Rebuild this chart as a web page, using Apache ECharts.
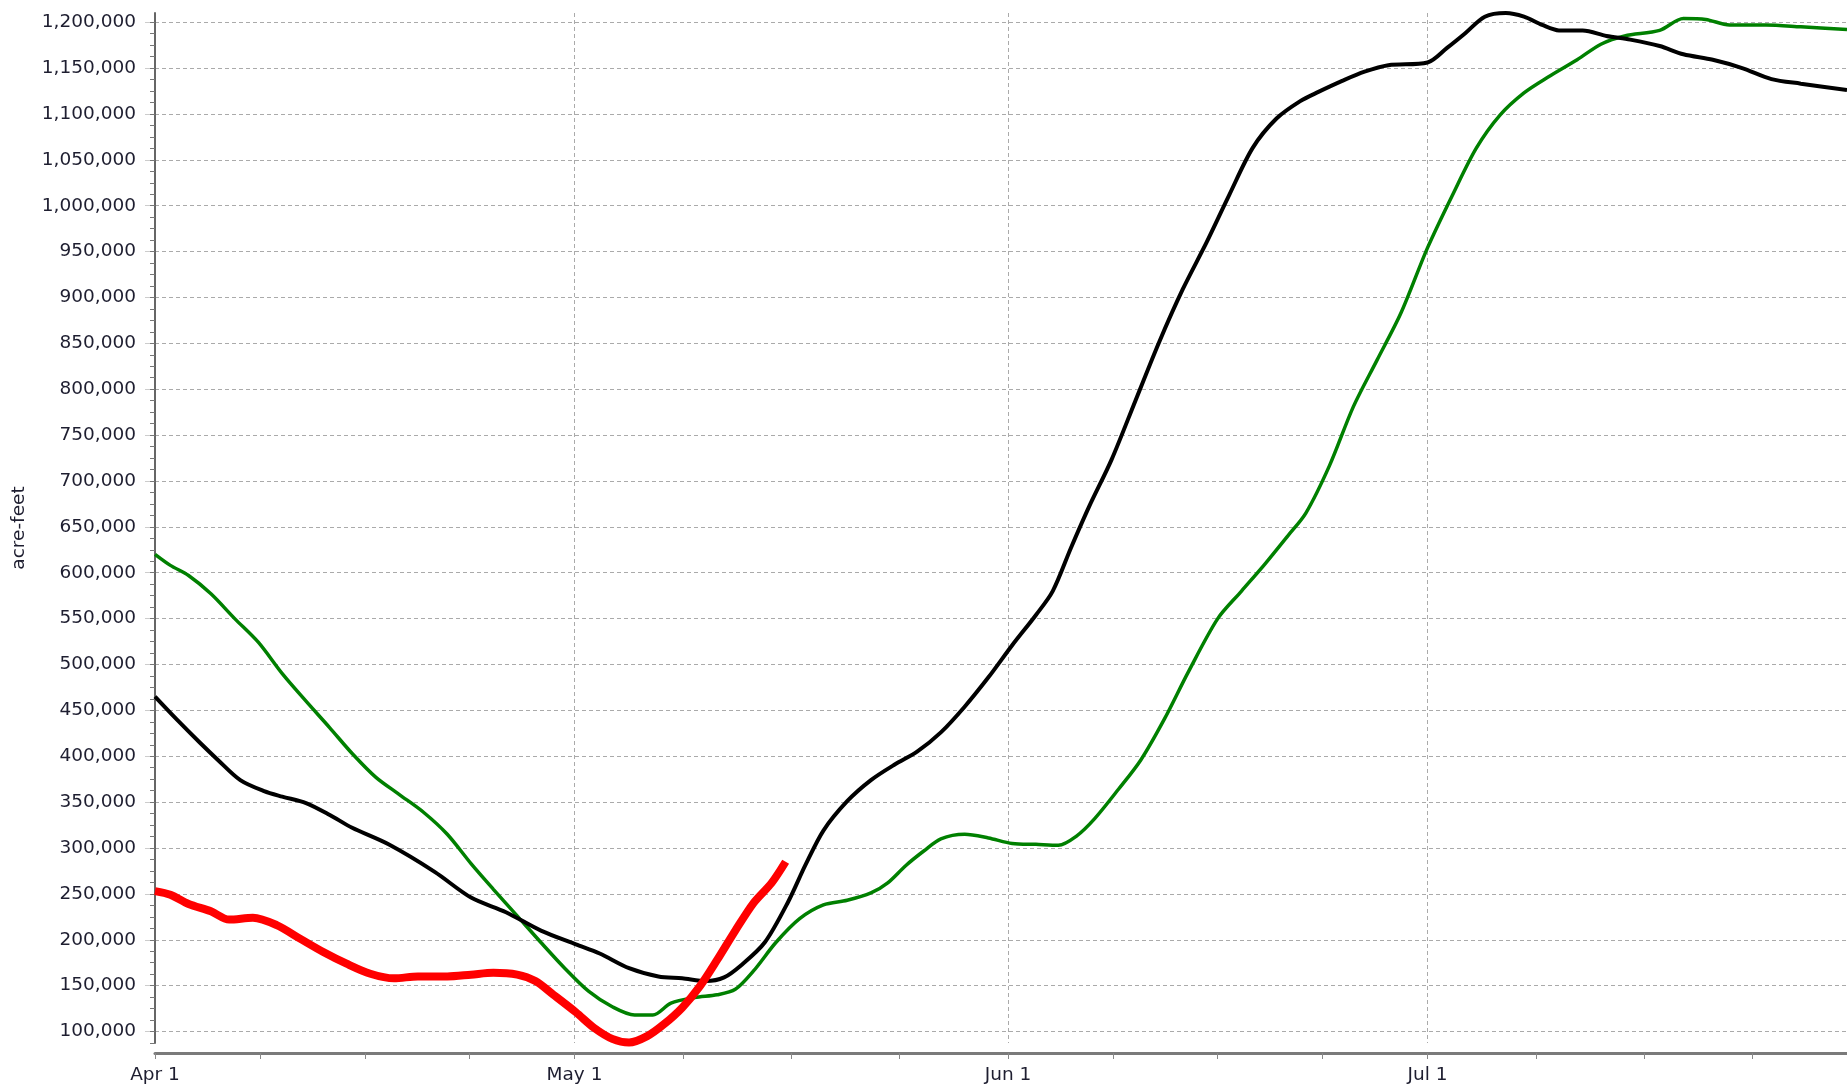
<!DOCTYPE html>
<html lang="en">
<head>
    <meta charset="UTF-8">
    <title>Storage</title>
    <script src="https://cdn.jsdelivr.net/npm/echarts@6/dist/echarts.min.js"></script>
    <style>
        html, body { margin: 0; padding: 0; background: #fff; }
        #chart { width: 1847px; height: 1087px; }
    </style>
</head>
<body>
<div id="chart"></div>
<script>
    // x = days after Apr 1
    var monthTicks = [0, 30, 61, 91];
    var monthLabels = ['Apr 1', 'May 1', 'Jun 1', 'Jul 1'];
    var quarterTicks = [0, 7.5, 15, 22.5, 30, 37.75, 45.5, 53.25, 61, 68.5, 76, 83.5, 91, 98.75, 106.5, 114.25];
    var yMajor = [100000, 150000, 200000, 250000, 300000, 350000, 400000, 450000, 500000, 550000,
        600000, 650000, 700000, 750000, 800000, 850000, 900000, 950000, 1000000, 1050000,
        1100000, 1150000, 1200000];

    var blackDays = [0, 1.5, 3.2, 4.5, 6.1, 7.8, 9.1, 10.8, 12.5, 14.1, 16.7, 20, 22.6, 25.1, 27.6, 30.1,
        31.8, 33.9, 36, 37.7, 39.4, 40.7, 41.9, 43.6, 45.3, 46.5, 47.8, 49.5, 51.2, 52.9, 54.5, 56.2,
        57.9, 59.6, 61.3, 63, 64.2, 65.5, 66.8, 68.4, 70.1, 71.8, 73.5, 75.2, 76.8, 78.5, 80.2, 81.9,
        83.2, 84.9, 86.5, 88.2, 91, 92.4, 93.7, 95.1, 96.6, 97.9, 99.2, 100.4, 102.1, 103.8, 105.5,
        107.6, 109.3, 111.4, 113.5, 115.6, 117.7, 121];
    var blackVals = [465000, 441000, 415000, 396000, 374000, 362000, 356000, 349000, 336000, 322000, 304000,
        274000, 246000, 230000, 210000, 195000, 185000, 169000, 160000, 158000, 155000, 159000, 172000,
        197000, 242000, 281000, 319000, 351000, 374000, 391000, 405000, 426000, 454000, 486000, 521000,
        554000, 580000, 627000, 672000, 723000, 787000, 851000, 909000, 960000, 1011000, 1063000, 1095000,
        1114000, 1124000, 1136000, 1146000, 1153000, 1156000, 1172000, 1188000, 1206000, 1210000, 1206000,
        1197000, 1191000, 1191000, 1185000, 1181000, 1174000, 1165000, 1159000, 1150000, 1138000, 1133000,
        1126000];

    var greenDays = [0, 1.1, 2.4, 4, 5.7, 7.4, 9.1, 10.8, 12.5, 14.1, 15.8, 17.5, 19.2, 20.9, 22.6, 24.2,
        25.9, 27.6, 29.3, 31, 32.7, 34.3, 35.6, 36.9, 38.6, 40.2, 41.5, 42.8, 44.4, 46.1, 47.8, 49.5,
        51.2, 52.4, 53.7, 55, 56.2, 57.9, 59.6, 61.3, 63, 64.6, 65.9, 67.2, 68.9, 70.5, 72.2, 73.9, 76,
        77.7, 79.4, 81, 82.3, 84, 85.7, 87.4, 89.1, 91, 92.8, 94.5, 96.2, 97.9, 99.6, 101.7, 103.4, 105.1,
        107.6, 109.3, 110.9, 112.6, 115.2, 117.7, 121];
    var greenVals = [620000, 608000, 597000, 577000, 550000, 524000, 490000, 460000, 431000, 403000, 377000,
        358000, 339000, 315000, 283000, 255000, 226000, 197000, 169000, 144000, 127000, 118000, 118000,
        131000, 137000, 140000, 146000, 166000, 197000, 223000, 238000, 243000, 251000, 262000, 281000,
        297000, 310000, 315000, 311000, 305000, 304000, 303000, 313000, 332000, 364000, 396000, 441000,
        492000, 550000, 580000, 610000, 640000, 665000, 717000, 781000, 832000, 883000, 954000, 1012000,
        1063000, 1099000, 1123000, 1140000, 1159000, 1176000, 1185000, 1191000, 1204000, 1203000, 1197000,
        1197000, 1195000, 1192000];

    var redDays = [0, 1.1, 2.4, 4, 5.3, 7, 8.7, 10.4, 12, 13.7, 15.4, 17.1, 18.8, 20.9, 22.6, 24.2, 25.9,
        27.2, 28.5, 30.1, 31.4, 32.7, 33.9, 35.2, 36.4, 37.7, 39, 40.2, 41.5, 42.8, 44.1, 45.1];
    var redVals = [253000, 249000, 239000, 231000, 222000, 224000, 216000, 201000, 187000, 174000, 163000,
        158000, 160000, 160000, 162000, 164000, 162000, 155000, 140000, 121000, 104000, 92000, 88000,
        95000, 108000, 126000, 150000, 178000, 210000, 240000, 262000, 285000];

    function zip(xs, ys) {
        var out = [];
        for (var i = 0; i < xs.length; i++) out.push([xs[i], ys[i]]);
        return out;
    }

    var yMinor = [];
    for (var v = 87500; v <= 1200000; v += 12500) yMinor.push(v);

    var font = 'DejaVu Sans, Verdana, sans-serif';
    var xMin = 0, xMax = 121, yMin = 87500, yMax = 1210000;

    var chart = echarts.init(document.getElementById('chart'));
    var option = {
        animation: false,
        backgroundColor: '#fff',
        grid: {left: 155, right: 0, top: 13, bottom: 44, containLabel: false},
        xAxis: [{
            type: 'value', min: xMin, max: xMax, position: 'bottom', offset: 10,
            axisLine: {show: true, lineStyle: {color: '#7a7a7a', width: 3}},
            axisTick: {show: false, customValues: monthTicks},
            axisLabel: {
                customValues: monthTicks, margin: 13, color: '#1e1e30', fontFamily: font, fontSize: 18.5,
                formatter: function (val) {
                    var i = monthTicks.indexOf(val);
                    return i >= 0 ? monthLabels[i] : '';
                }
            },
            splitLine: {show: true, lineStyle: {color: '#aaa', type: [4, 3], width: 1}}
        }, {
            type: 'value', min: xMin, max: xMax, position: 'bottom', offset: 10,
            axisLine: {show: false},
            axisTick: {show: true, customValues: quarterTicks, length: 6, lineStyle: {color: '#888', width: 1}},
            axisLabel: {show: false},
            splitLine: {show: false}
        }],
        yAxis: [{
            type: 'value', min: yMin, max: yMax, position: 'left',
            name: 'acre-feet', nameLocation: 'middle', nameGap: 126, nameRotate: 90,
            nameTextStyle: {color: '#1e1e30', fontFamily: font, fontSize: 18.5},
            axisLine: {show: true, lineStyle: {color: '#666', width: 2}},
            axisTick: {show: true, customValues: yMajor, length: 10, lineStyle: {color: '#ccc', width: 1}},
            axisLabel: {
                customValues: yMajor, margin: 19, color: '#1e1e30', fontFamily: font, fontSize: 18.5,
                formatter: function (val) { return val.toLocaleString('en-US'); }
            },
            splitLine: {show: true, lineStyle: {color: '#aaa', type: [4, 3], width: 1}}
        }, {
            type: 'value', min: yMin, max: yMax, position: 'left',
            axisLine: {show: false},
            axisTick: {show: true, customValues: yMinor, length: 5, lineStyle: {color: '#777', width: 1}},
            axisLabel: {show: false},
            splitLine: {show: false}
        }],
        series: [{
            name: 'Green', type: 'line', xAxisIndex: 0, yAxisIndex: 0,
            data: zip(greenDays, greenVals), showSymbol: false, smooth: 0.3,
            lineStyle: {color: '#008000', width: 3.5}
        }, {
            name: 'Black', type: 'line', xAxisIndex: 0, yAxisIndex: 0,
            data: zip(blackDays, blackVals), showSymbol: false, smooth: 0.3,
            lineStyle: {color: '#000', width: 4}
        }, {
            name: 'Red', type: 'line', xAxisIndex: 0, yAxisIndex: 0,
            data: zip(redDays, redVals), showSymbol: false, smooth: 0.3,
            lineStyle: {color: '#ff0000', width: 8}
        }]
    };
    chart.setOption(option);
</script>
</body>
</html>
